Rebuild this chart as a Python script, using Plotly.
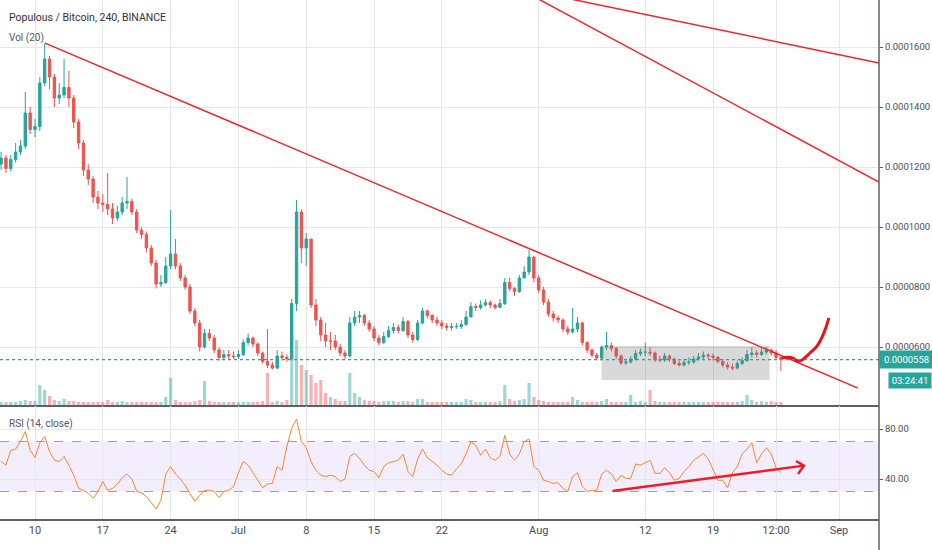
import pandas as pd
import plotly.graph_objects as go

# 12h candles, prices in units of 1e-7 BTC
first_open = 1210
close_p = [1230,1195,1225,1250,1270,1380,1325,1335,1480,1560,
           1500,1430,1440,1465,1430,1350,1280,1190,1160,1100,
           1080,1075,1060,1030,1050,1080,1085,1050,990,975,
           930,880,810,815,870,910,870,830,800,720,
           680,600,645,630,590,565,575,570,568,575,
           615,630,610,580,552,540,530,570,565,560,
           745,1050,930,960,740,690,640,620,620,600,
           580,570,680,700,705,680,660,630,615,635,
           655,665,655,685,640,625,680,720,705,690,
           680,670,665,668,668,675,700,735,732,740,
           748,740,732,745,815,795,785,830,850,900,
           830,790,750,710,697,690,660,650,660,680,
           615,590,573,563,600,605,595,570,547,550,
           560,578,583,583,580,557,557,570,560,545,
           540,548,550,560,567,573,570,565,552,540,
           533,530,545,555,575,580,575,583,590,580,
           565,558]
high_p = [1250,1240,1240,1280,1290,1450,1400,1360,1500,1613,
          1570,1510,1480,1560,1520,1440,1360,1290,1210,1170,
          1120,1110,1180,1080,1070,1100,1167,1095,1060,1000,
          985,940,890,840,900,1057,960,880,840,810,
          730,690,660,660,640,600,590,590,585,590,
          625,645,635,615,585,660,550,590,585,575,
          760,1090,1060,980,960,760,700,680,650,640,
          610,590,700,720,720,710,690,670,640,650,
          670,680,675,700,690,650,690,730,725,710,
          700,690,680,680,680,690,720,750,745,755,
          760,755,745,760,830,830,800,840,870,923,
          905,840,800,760,720,705,695,670,730,700,
          685,620,595,580,605,650,615,600,575,560,
          570,590,595,615,600,585,570,580,575,565,
          555,560,565,570,580,585,580,578,570,560,
          550,545,555,565,590,600,590,600,600,595,
          590,570]
low_p = [1190,1180,1185,1215,1240,1260,1310,1300,1320,1470,
         1460,1400,1410,1430,1400,1330,1260,1170,1140,1080,
         1060,1050,1040,1010,1020,1040,1060,1040,980,960,
         915,870,795,800,810,860,860,820,790,710,
         670,585,595,620,580,555,560,560,560,560,
         570,605,600,570,545,530,525,525,555,550,
         555,720,880,870,730,670,620,600,590,590,
         570,560,565,670,680,670,650,620,605,610,
         630,645,645,650,630,615,620,675,695,680,
         670,660,655,655,660,660,670,700,720,725,
         735,730,725,730,740,785,770,780,830,840,
         815,780,740,700,685,680,650,640,645,650,
         605,580,565,555,555,590,585,560,540,540,
         545,555,570,570,570,550,550,550,550,540,
         535,535,540,545,555,560,560,555,545,532,
         525,522,525,540,550,565,565,570,575,570,
         560,520]
volume = [3,3,3,3,4,5,4,4,20,15,
          9,5,4,6,4,4,3,3,3,3,
          3,3,5,3,3,4,3,3,3,3,
          3,3,3,3,8,27,5,3,3,3,
          4,5,24,4,3,3,3,3,3,3,
          3,3,3,3,4,32,3,4,3,5,
          45,65,40,35,30,22,25,12,8,6,
          4,4,32,12,8,5,4,4,3,4,
          4,4,3,4,4,3,6,6,3,3,
          3,3,3,3,3,3,6,5,3,3,
          3,3,3,4,20,6,4,5,6,22,
          8,5,4,3,3,3,3,3,8,5,
          3,3,3,3,4,6,3,3,3,3,
          10,3,4,3,15,4,3,3,3,3,
          3,3,3,3,3,3,3,3,3,3,
          3,3,3,4,10,5,3,4,3,4,
          3,3]
rsi = [54,51,63,64,70,78,63,57,69,74,
       62,55,54,58,51,43,32.5,31,28.5,24.5,
       30,38,31,32.5,36,41,44,40,30,29,
       26,21,16,23,44,50,44,40,35,28.5,
       22,27,31,31,30,25,30,31,34,45,
       54,51,45,38,33,36,36.5,50,47,66,
       80.5,88,70,65,54,47,43,42,43,42,
       38,40,58,60.5,56.5,51,47,46,41,50,
       53,54,55,60,46,42,56,64,57,54,
       51,47,44,43,48,52,60,70,67,59,
       64,57,55,58,75,60,55,60,70,72,
       50,47,39,38,36.5,37,32.5,30,42,45,
       34,30,31,31,44,47,44,38,43,40.5,
       40.5,52,51,53,55,44.5,44.5,49,45,39,
       40.5,46,50,55,58,60.5,56,47,39,39,
       33,45,50,60,64,69,53,60,65,60,
       49,45]
last_price = 558

# drawings on the chart
trend_t = ["2019-06-11 00:45", "2019-09-02 23:00"]
trend_p = [1613, 463]
upper1_t = ["2019-07-30 00:00", "2019-09-05 03:00"]
upper1_p = [1794, 1150]
upper2_t = ["2019-08-01 00:00", "2019-09-05 03:00"]
upper2_p = [1782, 1547]
box_t = ["2019-08-07 12:00", "2019-08-24 20:00"]
box_p = [490, 603]
curve_t = ["2019-08-26 03:00", "2019-08-26 15:00", "2019-08-27 06:00", "2019-08-27 18:00",
           "2019-08-28 06:00", "2019-08-29 00:00", "2019-08-29 17:00", "2019-08-30 06:00",
           "2019-08-30 16:00", "2019-08-30 23:00"]
curve_p = [563, 566, 563, 553, 558, 580, 602, 633, 667, 697]
arrow_t = ["2019-08-08 15:00", "2019-08-28 09:00"]
arrow_r = [30.4, 50.7]
head_t = ["2019-08-27 13:30", "2019-08-28 09:00", "2019-08-27 18:30"]
head_r = [54.4, 50.7, 44]

tick_dates = ["2019-06-10", "2019-06-17", "2019-06-24", "2019-07-01", "2019-07-08",
              "2019-07-15", "2019-07-22", "2019-08-01", "2019-08-12", "2019-08-19",
              "2019-08-25 12:00", "2019-09-01"]
tick_text = ["10", "17", "24", "Jul", "8", "15", "22", "Aug", "12", "19", "12:00", "Sep"]
price_ticks = [600, 800, 1000, 1200, 1400, 1600]

S = 1e-7
UP = "#26a69a"
DOWN = "#ef5350"
FONT = "Roboto, sans-serif"

dates = pd.date_range("2019-06-06 12:00", periods=len(close_p), freq="12h")
open_p = [first_open] + close_p[:-1]
vol_colors = ["rgba(38,166,154,0.45)" if c >= o else "rgba(239,83,80,0.45)"
              for o, c in zip(open_p, close_p)]

fig = go.Figure()

fig.add_trace(go.Candlestick(
    x=dates, open=[v * S for v in open_p], high=[v * S for v in high_p],
    low=[v * S for v in low_p], close=[v * S for v in close_p],
    increasing=dict(line=dict(color=UP, width=1), fillcolor=UP),
    decreasing=dict(line=dict(color=DOWN, width=1), fillcolor=DOWN),
    whiskerwidth=0, xaxis="x", yaxis="y", showlegend=False, hoverinfo="skip"))

fig.add_trace(go.Bar(x=dates, y=volume, marker=dict(color=vol_colors, line=dict(width=0)),
                     xaxis="x", yaxis="y3", showlegend=False, hoverinfo="skip"))

red_lines = [(trend_t, trend_p), (upper1_t, upper1_p), (upper2_t, upper2_p)]
for t, p in red_lines:
    fig.add_trace(go.Scatter(x=t, y=[v * S for v in p], mode="lines",
                             line=dict(color="#f0252b", width=1.5),
                             xaxis="x", yaxis="y", showlegend=False, hoverinfo="skip"))

fig.add_trace(go.Scatter(x=curve_t, y=[v * S for v in curve_p], mode="lines",
                         line=dict(color="#e3141c", width=3, shape="spline"),
                         xaxis="x", yaxis="y", showlegend=False, hoverinfo="skip"))

fig.add_trace(go.Scatter(x=dates, y=rsi, mode="lines", line=dict(color="#f7882f", width=1),
                         xaxis="x2", yaxis="y2", showlegend=False, hoverinfo="skip"))
fig.add_trace(go.Scatter(x=arrow_t, y=arrow_r, mode="lines", line=dict(color="#ee1c25", width=2.5),
                         xaxis="x2", yaxis="y2", showlegend=False, hoverinfo="skip"))
fig.add_trace(go.Scatter(x=head_t, y=head_r, mode="lines", line=dict(color="#ee1c25", width=2.5),
                         xaxis="x2", yaxis="y2", showlegend=False, hoverinfo="skip"))

XR = ["2019-06-06 09:17", "2019-09-05 03:06"]
XD = [0, 879 / 932]
GRID = "#e6e7ea"
AXC = "#5d606b"
TXT = "#4a4d57"

fig.update_layout(
    width=932, height=550, margin=dict(l=0, r=0, t=0, b=0),
    paper_bgcolor="white", plot_bgcolor="white", template="none",
    font=dict(family=FONT, size=11, color=TXT),
    bargap=0.35,
    xaxis=dict(domain=XD, anchor="y", type="date", range=XR, tickvals=tick_dates,
               showticklabels=False, showgrid=True, gridcolor=GRID, zeroline=False,
               showline=True, linecolor=AXC, linewidth=2, rangeslider=dict(visible=False)),
    xaxis2=dict(domain=XD, anchor="y2", type="date", range=XR, matches="x",
                tickvals=tick_dates, ticktext=tick_text, showgrid=True, gridcolor=GRID,
                zeroline=False, showline=True, linecolor=AXC, linewidth=2, ticks="",
                tickfont=dict(size=11, color=TXT)),
    yaxis=dict(domain=[145 / 550, 1], anchor="x", side="right",
               range=[406.7 * S, 1756.7 * S], tickvals=[v * S for v in price_ticks],
               tickformat=".7f", showgrid=True, gridcolor=GRID, zeroline=False,
               showline=False, ticks="outside", ticklen=3, tickcolor=AXC,
               tickfont=dict(size=9.5, color=TXT), automargin=False),
    yaxis3=dict(overlaying="y", anchor="x", range=[0, 405], visible=False),
    yaxis2=dict(domain=[31 / 550, 144 / 550], anchor="x2", side="right", range=[8, 98.4],
                tickvals=[40, 80], ticktext=["40.00", "80.00"], showgrid=True, gridcolor=GRID,
                zeroline=False, showline=False, ticks="outside", ticklen=3, tickcolor=AXC,
                tickfont=dict(size=9.5, color=TXT), automargin=False),
)

# RSI band and levels
fig.add_shape(type="rect", xref="x2 domain", yref="y2", x0=0, x1=1, y0=30, y1=70,
              fillcolor="rgba(150,100,240,0.11)", line=dict(width=0), layer="below")
for lvl in (30, 70):
    fig.add_shape(type="line", xref="x2 domain", yref="y2", x0=0, x1=1, y0=lvl, y1=lvl,
                  line=dict(color="#a0a0a8", width=1, dash="dash"), layer="below")

# consolidation box
fig.add_shape(type="rect", xref="x", yref="y", x0=box_t[0], x1=box_t[1],
              y0=box_p[0] * S, y1=box_p[1] * S, fillcolor="rgba(120,120,120,0.28)",
              line=dict(width=0), layer="above")

# last price line
fig.add_shape(type="line", xref="x domain", yref="y", x0=0, x1=1,
              y0=last_price * S, y1=last_price * S,
              line=dict(color=UP, width=1.2, dash="dot"), layer="above")

# right axis rule
fig.add_shape(type="line", xref="paper", yref="paper", x0=XD[1], x1=XD[1], y0=0, y1=1,
              line=dict(color=AXC, width=1.5))

fig.add_annotation(xref="paper", yref="y", x=XD[1], y=last_price * S, xanchor="left",
                   yanchor="middle", text="0.0000558", showarrow=False, bgcolor=UP,
                   font=dict(color="white", size=9.5), width=47, borderpad=3)
fig.add_annotation(xref="paper", yref="y", x=888 / 932, y=last_price * S, yshift=-21,
                   xanchor="left", yanchor="middle", text="03:24:41", showarrow=False,
                   bgcolor=UP, font=dict(color="white", size=9.5), width=38, borderpad=2)

fig.add_annotation(xref="paper", yref="paper", x=7 / 932, y=1 - 18 / 550, xanchor="left",
                   yanchor="middle", text="Populous / Bitcoin, 240, BINANCE", showarrow=False,
                   font=dict(size=10.5, color="#2f3240"))
fig.add_annotation(xref="paper", yref="paper", x=7 / 932, y=1 - 38 / 550, xanchor="left",
                   yanchor="middle", text="Vol (20)", showarrow=False,
                   font=dict(size=10, color="#555863"))
fig.add_annotation(xref="paper", yref="paper", x=7 / 932, y=1 - 424 / 550, xanchor="left",
                   yanchor="middle", text="RSI (14, close)", showarrow=False,
                   font=dict(size=10, color="#555863"))

fig.write_html("out.html", config={"displayModeBar": False},
               post_script="document.body.style.margin='0';")
